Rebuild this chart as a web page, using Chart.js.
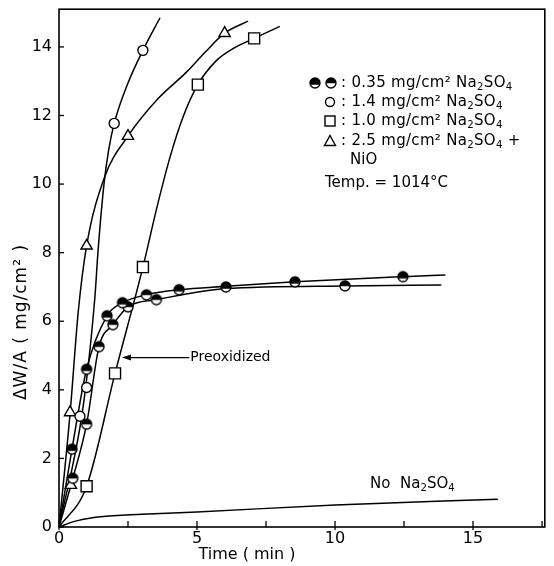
<!DOCTYPE html>
<html><head><meta charset="utf-8">
<script src="https://cdn.jsdelivr.net/npm/chart.js@4"></script>
<style>html,body{margin:0;padding:0;background:#fff}#wrap{width:554px;height:566px;position:relative}</style>
</head><body><div id="wrap"><canvas id="c"></canvas></div>
<script>
// ---- data ----
const xTicksMajor = [0, 5, 10, 15];
const yTickLabels = [0, 2, 4, 6, 8, 10, 12, 14];

// 0.35 mg/cm2 Na2SO4, run A (mostly filled symbol)
const runA_x = [0.47, 1.0, 1.74, 2.3, 4.35, 6.05, 8.55, 12.46];
const runA_y = [2.27, 4.6, 6.16, 6.54, 6.92, 7.0, 7.15, 7.3];
const curveA_x = [0, 0.47, 1.0, 1.74, 2.3, 3.2, 4.35, 6.05, 8.55, 12.46, 14.0];
const curveA_y = [0, 2.27, 4.6, 6.16, 6.54, 6.78, 6.92, 7.02, 7.15, 7.3, 7.35];
// 0.35 mg/cm2 Na2SO4, run B (half filled symbol)
const runB_x = [0.5, 1.0, 1.45, 1.95, 2.5, 3.17, 3.53, 10.36];
const runB_y = [1.42, 3.0, 5.26, 5.9, 6.42, 6.77, 6.63, 7.03];
const curveB_x = [0, 0.5, 1.0, 1.45, 1.95, 2.5, 3.53, 6.0, 10.36, 13.85];
const curveB_y = [0, 1.42, 3.0, 5.26, 5.9, 6.42, 6.63, 6.95, 7.03, 7.06];
// 1.4 mg/cm2 Na2SO4 (open circles)
const c14_x = [0.76, 1.0, 2.0, 3.04];
const c14_y = [3.23, 4.07, 11.77, 13.9];
const curve14_x = [0, 0.86, 1.3, 1.41, 1.63, 1.8, 2.0, 2.5, 3.04, 3.66];
const curve14_y = [0, 3.43, 6.7, 8.0, 10.0, 11.0, 11.77, 12.95, 13.9, 14.85];
// 1.0 mg/cm2 Na2SO4 preoxidized (squares)
const sq_x = [1.0, 2.03, 3.04, 5.03, 7.07];
const sq_y = [1.19, 4.48, 7.58, 12.9, 14.25];
const curveSq_x = [0, 1.0, 2.03, 3.04, 3.55, 4.02, 4.49, 5.03, 5.7, 6.3, 7.07, 8.0];
const curveSq_y = [0, 1.19, 4.48, 7.58, 9.33, 10.78, 11.95, 12.9, 13.6, 13.95, 14.25, 14.6];
// 2.5 mg/cm2 Na2SO4 + NiO (triangles)
const tri_x = [0.4, 0.43, 1.0, 2.5, 6.0];
const tri_y = [3.34, 1.22, 8.2, 11.4, 14.4];
const curveTri_x = [0, 0.4, 0.7, 1.0, 1.65, 2.5, 3.6, 4.6, 5.3, 6.0, 6.85];
const curveTri_y = [0, 3.3, 6.3, 8.2, 10.2, 11.4, 12.5, 13.25, 13.85, 14.4, 14.75];
// No Na2SO4
const none_x = [0, 0.5, 1.0, 1.5, 3, 5, 10, 15.9];
const none_y = [0, 0.15, 0.24, 0.3, 0.37, 0.44, 0.64, 0.81];

const pts = (xs, ys) => xs.map((x, i) => ({x: x, y: ys[i]}));

// ---- symbols ----
function drawHalf(ctx, cx, cy, r, kind) {
  ctx.save();
  ctx.beginPath(); ctx.arc(cx, cy, r, 0, Math.PI * 2);
  ctx.fillStyle = '#fff'; ctx.fill();
  ctx.save(); ctx.clip();
  ctx.fillStyle = '#000';
  const cut = kind === 'a' ? cy + r * 0.35 : cy + r * 0.05;
  ctx.fillRect(cx - r - 1, cy - r - 1, 2 * r + 2, cut - (cy - r - 1));
  ctx.restore();
  ctx.beginPath(); ctx.arc(cx, cy, r, 0, Math.PI * 2);
  ctx.lineWidth = 1.4; ctx.strokeStyle = '#000'; ctx.stroke();
  ctx.restore();
}
function halfImg(kind) {
  const cv = document.createElement('canvas');
  cv.width = 14; cv.height = 14;
  drawHalf(cv.getContext('2d'), 7, 7, 5, kind);
  return cv;
}
const imgA = halfImg('a'), imgB = halfImg('b');

const lineDs = (xs, ys) => ({
  data: pts(xs, ys), showLine: true, pointRadius: 0, borderColor: '#000',
  borderWidth: 1.5, cubicInterpolationMode: 'monotone', fill: false, order: 2
});
const markDs = (xs, ys, style, r) => ({
  data: pts(xs, ys), showLine: false, pointStyle: style, pointRadius: r,
  pointBackgroundColor: '#fff', pointBorderColor: '#000', pointBorderWidth: 1.4, order: 1
});

const FONT = '"DejaVu Sans", "Liberation Sans", sans-serif';

function rich(ctx, x, y, parts, size, spacing) {
  let cx = x;
  ctx.letterSpacing = (spacing || 0) + 'px';
  for (const [t, k] of parts) {
    let s = size, dy = 0;
    if (k === 'sub') { s = size * 0.68; dy = size * 0.3; }
    ctx.font = s + 'px ' + FONT;
    ctx.fillText(t, cx, y + dy);
    cx += ctx.measureText(t).width;
  }
  ctx.letterSpacing = '0px';
  return cx;
}

const deco = {
  id: 'deco',
  afterDatasetsDraw(chart) {
    const ctx = chart.ctx, a = chart.chartArea;
    const xs = chart.scales.x, ys = chart.scales.y;
    ctx.save();
    ctx.strokeStyle = '#000'; ctx.fillStyle = '#000';
    // frame
    ctx.lineWidth = 1.6;
    ctx.strokeRect(a.left, a.top, a.right - a.left, a.bottom - a.top);
    // inward ticks
    ctx.lineWidth = 1.3;
    xs.ticks.forEach(t => {
      const p = xs.getPixelForValue(t.value);
      const major = xTicksMajor.includes(t.value);
      ctx.beginPath(); ctx.moveTo(p, a.bottom + (major ? 3 : 0)); ctx.lineTo(p, a.bottom - 6); ctx.stroke();
    });
    ys.ticks.forEach(t => {
      const p = ys.getPixelForValue(t.value);
      ctx.beginPath(); ctx.moveTo(a.left, p); ctx.lineTo(a.left + 5, p); ctx.stroke();
    });
    // axis titles
    ctx.textBaseline = 'middle';
    ctx.save();
    ctx.translate(22, 322); ctx.rotate(-Math.PI / 2);
    ctx.textAlign = 'center';
    ctx.font = '17px ' + FONT;
    ctx.letterSpacing = '1px';
    ctx.fillText('\u0394W/A ( mg/cm\u00B2 )', 0, 0);
    ctx.restore();
    ctx.textAlign = 'center';
    ctx.font = '16px ' + FONT;
    ctx.letterSpacing = '0px';
    ctx.fillText('Time ( min )', 247, 555);
    ctx.textAlign = 'left';
    // annotations
    const ay = ys.getPixelForValue(4.94);
    const ax0 = xs.getPixelForValue(2.28), ax1 = xs.getPixelForValue(4.72);
    ctx.lineWidth = 1.2;
    ctx.beginPath(); ctx.moveTo(ax1, ay); ctx.lineTo(ax0 + 6, ay); ctx.stroke();
    ctx.beginPath(); ctx.moveTo(ax0, ay); ctx.lineTo(ax0 + 9, ay - 3); ctx.lineTo(ax0 + 9, ay + 3); ctx.closePath(); ctx.fill();
    ctx.font = '14px ' + FONT;
    ctx.fillText('Preoxidized', ax1 + 1, ay);
    rich(ctx, xs.getPixelForValue(11.27), ys.getPixelForValue(1.25),
      [['No  Na', 'n'], ['2', 'sub'], ['SO', 'n'], ['4', 'sub']], 15, 0);
    // legend
    const rows = [83, 102, 121, 141];
    drawHalf(ctx, 315, rows[0], 5, 'a');
    drawHalf(ctx, 331, rows[0], 5, 'b');
    ctx.lineWidth = 1.4;
    ctx.beginPath(); ctx.arc(330, rows[1], 4.5, 0, Math.PI * 2); ctx.stroke();
    ctx.strokeRect(325, rows[2] - 5, 10, 10);
    ctx.beginPath(); ctx.moveTo(330, rows[3] - 5.5); ctx.lineTo(335.5, rows[3] + 4.5); ctx.lineTo(324.5, rows[3] + 4.5); ctx.closePath(); ctx.stroke();
    const lab = (y, num, extra) => rich(ctx, 341, y,
      [[': ' + num + ' mg/cm\u00B2 Na', 'n'], ['2', 'sub'], ['SO', 'n'], ['4', 'sub'], [extra, 'n']], 15, 0.3);
    lab(rows[0], '0.35', '');
    lab(rows[1], '1.4', '');
    lab(rows[2], '1.0', '');
    lab(rows[3], '2.5', ' +');
    ctx.font = '15px ' + FONT;
    ctx.fillText('NiO', 350, 160);
    ctx.fillText('Temp. = 1014\u00B0C', 325, 183);
    ctx.restore();
  }
};

new Chart(document.getElementById('c'), {
  type: 'scatter',
  data: {
    datasets: [
      lineDs(curveA_x, curveA_y),
      lineDs(curveB_x, curveB_y),
      lineDs(curve14_x, curve14_y),
      lineDs(curveSq_x, curveSq_y),
      lineDs(curveTri_x, curveTri_y),
      lineDs(none_x, none_y),
      markDs(runA_x, runA_y, imgA, 5),
      markDs(runB_x, runB_y, imgB, 5),
      markDs(c14_x, c14_y, 'circle', 5),
      markDs(sq_x, sq_y, 'rect', 7.8),
      markDs(tri_x, tri_y, 'triangle', 6.5)
    ]
  },
  options: {
    responsive: true, maintainAspectRatio: false, animation: false,
    devicePixelRatio: 1,
    layout: { padding: { top: 9, right: 9, left: 0, bottom: 0 } },
    plugins: { legend: { display: false }, tooltip: { enabled: false } },
    scales: {
      x: {
        type: 'linear', min: 0, max: 17.6,
        afterFit: s => { s.height = 39; s.paddingLeft = 0; s.paddingRight = 0; },
        border: { display: false },
        grid: { display: false, drawTicks: false },
        ticks: {
          stepSize: 2.5, includeBounds: false, maxRotation: 0, autoSkip: false,
          color: '#000', font: { family: FONT, size: 16 }, padding: 2,
          callback: v => (xTicksMajor.includes(v) ? String(v) : '')
        }
      },
      y: {
        type: 'linear', min: 0, max: 15.1,
        afterFit: s => { s.width = 59; s.paddingTop = 0; s.paddingBottom = 0; },
        border: { display: false },
        grid: { display: false, drawTicks: false },
        ticks: {
          stepSize: 2, includeBounds: false, autoSkip: false,
          color: '#000', font: { family: FONT, size: 16 }, padding: 7,
          callback: v => (yTickLabels.includes(v) ? String(v) : '')
        }
      }
    }
  },
  plugins: [deco]
});
</script></body></html>
